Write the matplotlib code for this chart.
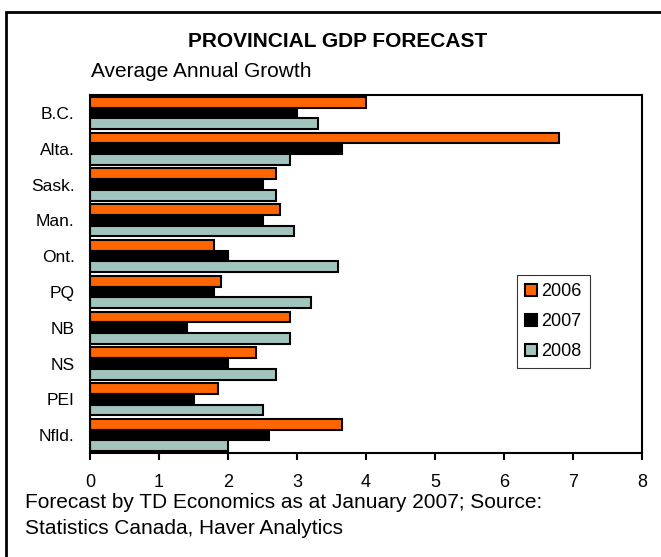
import numpy as np
import matplotlib.pyplot as plt
from matplotlib.patches import Rectangle

plt.rcParams['font.family'] = ['Liberation Sans', 'DejaVu Sans']

provinces = ['B.C.', 'Alta.', 'Sask.', 'Man.', 'Ont.', 'PQ', 'NB', 'NS', 'PEI', 'Nfld.']
growth_2006 = [4.0, 6.8, 2.7, 2.75, 1.8, 1.9, 2.9, 2.4, 1.85, 3.65]
growth_2007 = [3.0, 3.65, 2.5, 2.5, 2.0, 1.8, 1.4, 2.0, 1.5, 2.6]
growth_2008 = [3.3, 2.9, 2.7, 2.95, 3.6, 3.2, 2.9, 2.7, 2.5, 2.0]
years = ['2006', '2007', '2008']
colors = ['#FF6600', '#000000', '#A2C4BE']

fig = plt.figure(figsize=(6.61, 5.57), dpi=100)
ax = fig.add_axes([0.1362, 0.1867, 0.8351, 0.6427])

y = np.arange(len(provinces))
h = 0.3
series = [growth_2006, growth_2007, growth_2008]
for i, (vals, lab, c) in enumerate(zip(series, years, colors)):
    ax.barh(y + (i - 1) * h, vals, height=h, color=c, edgecolor='black',
            linewidth=1.5, label=lab)

ax.set_ylim(len(provinces) - 0.5, -0.5)
ax.set_xlim(0, 8)
ax.set_xticks(range(9))
ax.set_yticks(y)
ax.set_yticklabels(provinces, fontsize=12.5)
ax.tick_params(axis='y', length=0, pad=11)
ax.tick_params(axis='x', direction='out', length=5, width=1.5, labelsize=13, pad=10)
for s in ax.spines.values():
    s.set_linewidth(1.5)

leg = ax.legend(loc='upper left', bbox_to_anchor=(0.782, 0.506),
                bbox_transform=fig.transFigure, fontsize=13,
                frameon=True, fancybox=False, edgecolor='black',
                handlelength=0.66, handleheight=0.66, handletextpad=0.25,
                labelspacing=0.72, borderpad=0.45, borderaxespad=0)
leg.get_frame().set_linewidth(0.8)

fig.text(0.511, 0.925, 'PROVINCIAL GDP FORECAST', ha='center', va='center',
         fontsize=15, fontweight='bold')
fig.text(0.138, 0.8725, 'Average Annual Growth', ha='left', va='center', fontsize=15)
fig.text(0.038, 0.088, 'Forecast by TD Economics as at January 2007; Source:',
         ha='left', va='baseline', fontsize=15)
fig.text(0.038, 0.0413, 'Statistics Canada, Haver Analytics',
         ha='left', va='baseline', fontsize=15)

# outer frame around the whole chart
fig.patches.append(Rectangle((0.009, -0.1), 1.1, 1.078, transform=fig.transFigure,
                             fill=False, edgecolor='black', linewidth=2))

fig.savefig('out.png', dpi=100)
